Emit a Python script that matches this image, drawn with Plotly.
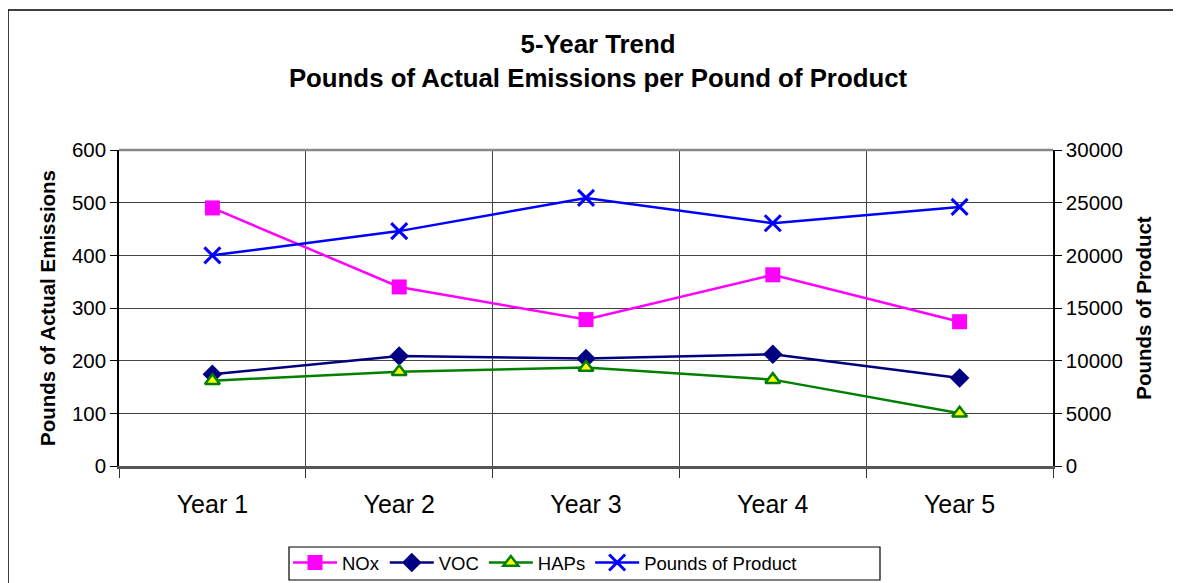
import plotly.graph_objects as go

years = ["Year 1", "Year 2", "Year 3", "Year 4", "Year 5"]
nox = [490, 340, 278, 363, 274]
voc = [174, 209, 204, 212, 167]
haps = [162, 179, 187, 164, 100]
pounds_product = [20000, 22300, 25450, 23050, 24600]

FONT = "Liberation Sans, Arial, sans-serif"

# page body has an 8px margin, so positions are set 8px up/left of the target
L, R, T, B = 111, 1181 - 1045, 142, 583 - 458
PW, PH = 1181 - L - R, 583 - T - B


def px(x):
    return (x - 8 - L) / PW


def py(y):
    return (458 - (y - 8)) / PH


fig = go.Figure()
fig.add_trace(go.Scatter(x=years, y=nox, name="NOx", mode="lines+markers",
                         line=dict(color="#FF00FF", width=2.5),
                         marker=dict(symbol="square", size=15, color="#FF00FF")))
fig.add_trace(go.Scatter(x=years, y=voc, name="VOC", mode="lines+markers",
                         line=dict(color="#000080", width=2.5),
                         marker=dict(symbol="diamond", size=15, color="#000080")))
fig.add_trace(go.Scatter(x=years, y=haps, name="HAPs", mode="lines+markers",
                         line=dict(color="#008000", width=2.5),
                         marker=dict(symbol="triangle-up", size=13, color="#FFFF00",
                                     line=dict(color="#008000", width=2.5))))
fig.add_trace(go.Scatter(x=years, y=pounds_product, name="Pounds of Product", mode="lines+markers",
                         yaxis="y2",
                         line=dict(color="#0000FF", width=2.5),
                         marker=dict(symbol="x-thin", size=16,
                                     line=dict(color="#0000FF", width=3))))

fig.update_layout(
    width=1181, height=583,
    paper_bgcolor="white", plot_bgcolor="white",
    margin=dict(l=L, r=R, t=T, b=B, autoexpand=False),
    font=dict(family=FONT, color="black"),
    title=dict(text="<b>5-Year Trend<br>Pounds of Actual Emissions per Pound of Product</b>",
               x=590 / 1181, xanchor="center", xref="container",
               y=1 - 45 / 583, yanchor="middle", yref="container",
               font=dict(size=25.8, family=FONT)),
    xaxis=dict(type="category", range=[-0.5, 4.5], tickson="boundaries",
               showgrid=True, gridcolor="#444444", gridwidth=1,
               ticks="outside", ticklen=9, tickcolor="#333",
               showline=True, linecolor="#555555", linewidth=2.5,
               ticklabelstandoff=14,
               tickfont=dict(size=25, family=FONT), zeroline=False, automargin=False),
    yaxis=dict(range=[0, 600], dtick=100, showgrid=True, gridcolor="#444444", gridwidth=1,
               ticks="outside", ticklen=7, tickcolor="black",
               showline=True, linecolor="black", linewidth=1.5, zeroline=False,
               tickfont=dict(size=20.5, family=FONT), automargin=False,
               title=dict(text="<b>Pounds of Actual Emissions</b>", font=dict(size=20.5, family=FONT), standoff=11)),
    yaxis2=dict(range=[0, 30000], dtick=5000, tickformat="d", overlaying="y", side="right",
                showgrid=False, ticks="outside", ticklen=7, tickcolor="black",
                showline=True, linecolor="black", linewidth=1.5, zeroline=False,
                tickfont=dict(size=20.5, family=FONT), automargin=False,
                title=dict(text="<b>Pounds of Product</b>", font=dict(size=20.5, family=FONT), standoff=15)),
    legend=dict(orientation="h", x=px(288), xanchor="left",
                y=py(544), yanchor="top",
                borderwidth=0, bgcolor="rgba(0,0,0,0)", itemwidth=44,
                font=dict(size=18.5, family=FONT), tracegroupgap=0),
    shapes=[dict(type="rect", xref="paper", yref="paper",
                 x0=(0 - L) / PW, x1=(1200 - L) / PW,
                 y0=(458 - 600) / PH, y1=(458 - 2) / PH,
                 line=dict(color="black", width=1.5), layer="below"),
            dict(type="rect", xref="paper", yref="paper",
                 x0=px(289), x1=px(880), y0=py(580), y1=py(547),
                 line=dict(color="black", width=1.2), fillcolor="white", layer="below"),
            dict(type="line", xref="paper", yref="paper", x0=0, x1=1, y0=1, y1=1,
                 line=dict(color="#888888", width=2.5))],
)

fig.write_html("out.html")
